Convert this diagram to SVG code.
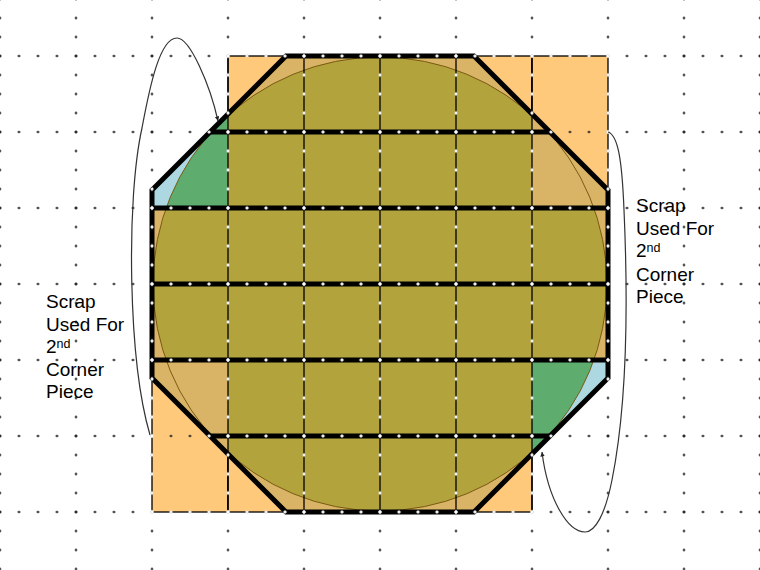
<svg xmlns="http://www.w3.org/2000/svg" width="760" height="570" viewBox="0 0 760 570">
<style>
.thin{stroke:#000;stroke-width:1.3;fill:none}
.board{stroke:#000;stroke-width:1.3;fill:#FFC97B}
.thick{stroke:#000;stroke-width:5;fill:none}
.lbl{font-family:"Liberation Sans",Arial,sans-serif;font-size:19px;fill:#000}
.sup{font-size:12.5px}
.conn{stroke:#333;stroke-width:1.2;fill:none}
</style>
<defs>
<pattern id="dcolD" patternUnits="userSpaceOnUse" x="-38" y="-10.5" width="76" height="19"><path d="M38,7.9 L39.6,9.5 L38,11.1 L36.4,9.5Z" fill="#222"/></pattern>
<pattern id="drowD" patternUnits="userSpaceOnUse" x="-9.5" y="18" width="19" height="76"><path d="M9.5,36.4 L11.1,38 L9.5,39.6 L7.9,38Z" fill="#222"/></pattern>
<pattern id="dcolW" patternUnits="userSpaceOnUse" x="-38" y="-10.5" width="76" height="19"><path d="M38,7.6 L39.9,9.5 L38,11.4 L36.1,9.5Z" fill="#fff"/></pattern>
<pattern id="drowW" patternUnits="userSpaceOnUse" x="-9.5" y="18" width="19" height="76"><path d="M9.5,36.1 L11.4,38 L9.5,39.9 L7.6,38Z" fill="#fff"/></pattern>
<clipPath id="octClip"><polygon points="286,56 474,56 608,190 608,378 474,512 286,512 152,378 152,190"/></clipPath>
<clipPath id="circClip"><circle cx="380" cy="284" r="227"/></clipPath>
<clipPath id="lineClip">
<polygon points="286,53 474,53 611,190 611,378 474,515 286,515 149,378 149,190"/>
<rect x="225" y="53" width="386" height="6"/>
<rect x="149" y="509" width="386" height="6"/>
<rect x="149" y="188" width="6" height="327"/>
<rect x="605" y="53" width="6" height="328"/>
<rect x="225" y="53" width="6" height="462"/>
<rect x="301" y="53" width="6" height="462"/>
<rect x="377" y="53" width="6" height="462"/>
<rect x="453" y="53" width="6" height="462"/>
<rect x="529" y="53" width="6" height="462"/>
</clipPath>
<marker id="arr" markerUnits="userSpaceOnUse" markerWidth="6" markerHeight="6" refX="4.5" refY="2.25" orient="auto"><path d="M0,0 L4.5,2.25 L0,4.5Z" fill="#222"/></marker>
</defs>
<rect width="760" height="570" fill="#fff"/>
<g id="boards">
<rect x="152" y="208" width="76" height="304" class="board"/>
<rect x="228" y="56" width="304" height="456" class="board"/>
<rect x="532" y="56" width="76" height="304" class="board"/>
</g>
<g id="octagon-fill">
<polygon points="286,56 474,56 608,190 608,378 474,512 286,512 152,378 152,190" fill="#DAB466"/>
</g>
<g id="scrap-top-left">
<rect x="152" y="100" width="76" height="108" fill="#ADD8E2" clip-path="url(#octClip)"/>
<rect x="152" y="100" width="76" height="108" fill="#5EAD6F" clip-path="url(#circClip)"/>
</g>
<g id="scrap-bottom-right">
<rect x="532" y="360" width="76" height="100" fill="#ADD8E2" clip-path="url(#octClip)"/>
<rect x="532" y="360" width="76" height="100" fill="#5EAD6F" clip-path="url(#circClip)"/>
</g>
<g id="circle">
<g clip-path="url(#circClip)">
<rect x="228" y="56" width="304" height="456" fill="#B3A33C"/>
<rect x="152" y="208" width="76" height="152" fill="#B3A33C"/>
<rect x="532" y="208" width="76" height="152" fill="#B3A33C"/>
</g>
<circle cx="380" cy="284" r="227" fill="none" stroke="#7A5A14" stroke-width="1"/>
</g>
<g id="grid-lines">
<line x1="228" y1="56" x2="228" y2="512" class="thin"/>
<line x1="304" y1="56" x2="304" y2="512" class="thin"/>
<line x1="380" y1="56" x2="380" y2="512" class="thin"/>
<line x1="456" y1="56" x2="456" y2="512" class="thin"/>
<line x1="532" y1="56" x2="532" y2="512" class="thin"/>
<line x1="210" y1="132" x2="550" y2="132" class="thick"/>
<line x1="152" y1="208" x2="608" y2="208" class="thick"/>
<line x1="152" y1="284" x2="608" y2="284" class="thick"/>
<line x1="152" y1="360" x2="608" y2="360" class="thick"/>
<line x1="210" y1="436" x2="550" y2="436" class="thick"/>
</g>
<g id="octagon">
<polygon points="286,56 474,56 608,190 608,378 474,512 286,512 152,378 152,190" class="thick" stroke-linejoin="miter"/>
</g>
<g id="dots">
<rect width="760" height="570" fill="url(#dcolD)"/>
<rect width="760" height="570" fill="url(#drowD)"/>
<g clip-path="url(#lineClip)">
<rect width="760" height="570" fill="url(#dcolW)"/>
<rect width="760" height="570" fill="url(#drowW)"/>
</g>
</g>
<g id="connectors">
<path class="conn" d="M150,435 C128,360 126,200 142,128 C150,85 160,38 177,38 C190,38 210,85 218,121" marker-end="url(#arr)"/>
<path class="conn" d="M608,132 C618,135 622,160 624,210 C628,300 628,400 612,480 C605,515 595,532 585,532 C568,532 548,500 542,452" marker-end="url(#arr)"/>
</g>
<g id="label-left">
<text class="lbl" x="46" y="308">Scrap</text>
<text class="lbl" x="46" y="330.5">Used For</text>
<text class="lbl" x="46" y="353">2<tspan class="sup" dy="-5">nd</tspan></text>
<text class="lbl" x="46" y="375.5">Corner</text>
<text class="lbl" x="46" y="398">Piece</text>
</g>
<g id="label-right">
<text class="lbl" x="636" y="212">Scrap</text>
<text class="lbl" x="636" y="234.5">Used For</text>
<text class="lbl" x="636" y="257">2<tspan class="sup" dy="-5">nd</tspan></text>
<text class="lbl" x="636" y="280.5">Corner</text>
<text class="lbl" x="636" y="303">Piece</text>
</g>
</svg>
